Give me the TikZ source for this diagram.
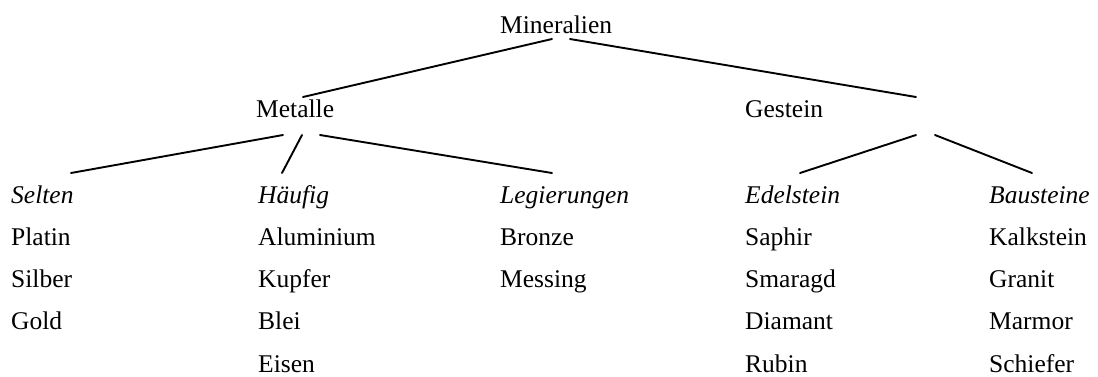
\documentclass[tikz,border=0pt]{standalone}
\usepackage{fontspec}
\setmainfont{Liberation Serif}
\begin{document}
\begin{tikzpicture}[x=1pt,y=-1pt,
  lbl/.style={anchor=base west,inner sep=0pt,font=\fontsize{25.5}{30}\selectfont},
  cat/.style={lbl,font=\fontsize{25.5}{30}\selectfont\itshape},
  branch/.style={line width=1.9pt,line cap=round}]
\useasboundingbox (0,0) rectangle (1098,376);

% root and first level
\node[lbl] (min) at (500,33) {Mineralien};
\node[lbl] (met) at (256,117) {Metalle};
\node[lbl] (gest) at (745,117) {Gestein};

% categories
\node[cat] (sel) at (11,203) {Selten};
\node[cat] (hau) at (258,203) {Häufig};
\node[cat] (leg) at (500,203) {Legierungen};
\node[cat] (edel) at (745,203) {Edelstein};
\node[cat] (bau) at (989,203) {Bausteine};

% members of each category
\foreach \t [count=\i] in {Platin,Silber,Gold}
  \node[lbl] (sel\i) at (11,{203+42.25*\i}) {\t};
\foreach \t [count=\i] in {Aluminium,Kupfer,Blei,Eisen}
  \node[lbl] (hau\i) at (258,{203+42.25*\i}) {\t};
\foreach \t [count=\i] in {Bronze,Messing}
  \node[lbl] (leg\i) at (500,{203+42.25*\i}) {\t};
\foreach \t [count=\i] in {Saphir,Smaragd,Diamant,Rubin}
  \node[lbl] (edel\i) at (745,{203+42.25*\i}) {\t};
\foreach \t [count=\i] in {Kalkstein,Granit,Marmor,Schiefer}
  \node[lbl] (bau\i) at (989,{203+42.25*\i}) {\t};

% branches
\draw[branch] ([shift={(52,6)}]min.base west) -- ([shift={(47,-20)}]met.base west);
\draw[branch] ([shift={(70,6)}]min.base west) -- ([shift={(171,-20)}]gest.base west);
\draw[branch] ([shift={(27,18)}]met.base west) -- ([shift={(60,-30)}]sel.base west);
\draw[branch] ([shift={(46,18)}]met.base west) -- ([shift={(24,-30)}]hau.base west);
\draw[branch] ([shift={(64,18)}]met.base west) -- ([shift={(52,-30)}]leg.base west);
\draw[branch] ([shift={(171,18)}]gest.base west) -- ([shift={(55,-30)}]edel.base west);
\draw[branch] ([shift={(190,18)}]gest.base west) -- ([shift={(43,-30)}]bau.base west);
\end{tikzpicture}
\end{document}
